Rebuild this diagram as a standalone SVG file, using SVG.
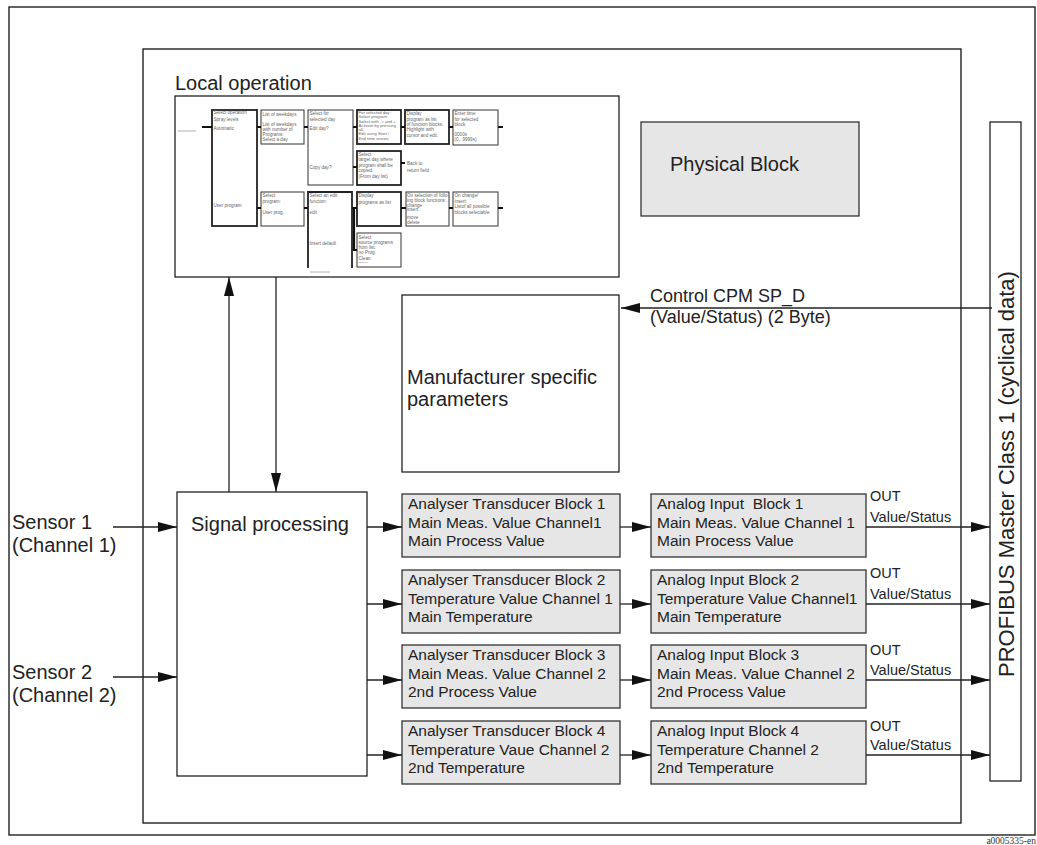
<svg xmlns="http://www.w3.org/2000/svg" width="1037" height="845" viewBox="0 0 1037 845">
<style>
  .frame{fill:none;stroke:#222;stroke-width:1.4}
  .box{fill:#fff;stroke:#222;stroke-width:1.3}
  .gbox{fill:#e6e6e6;stroke:#333;stroke-width:1.3}
  .t20{font-family:"Liberation Sans",Arial,sans-serif;font-size:20px;fill:#222}
  .t18{font-family:"Liberation Sans",Arial,sans-serif;font-size:18px;fill:#222}
  .t15{font-family:"Liberation Sans",Arial,sans-serif;font-size:15.5px;fill:#222;white-space:pre}
  .t14{font-family:"Liberation Sans",Arial,sans-serif;font-size:14.5px;fill:#222}
  .conn{fill:none;stroke:#222;stroke-width:1.3}
  .mthick{fill:#fff;stroke:#222;stroke-width:1.8}
  .mthin{fill:#fff;stroke:#333;stroke-width:1}
  .mc{fill:none;stroke:#111;stroke-width:2.2}
  .mfaint{fill:none;stroke:#999;stroke-width:0.8}
  .mt{font-family:"Liberation Sans",Arial,sans-serif;font-size:4.6px;fill:#666}
  .ms{font-family:"Liberation Sans",Arial,sans-serif;font-size:4.2px;fill:#666}
</style>
<defs>
  <marker id="ah" markerUnits="userSpaceOnUse" markerWidth="20" markerHeight="12" refX="19" refY="5" orient="auto">
    <path d="M0,0 L19,5 L0,10 z" fill="#111"/>
  </marker>
</defs>
<rect width="1037" height="845" fill="#fff"/>
<g id="outer-frame"><rect class="frame" x="9" y="7" width="1026" height="828"/></g>
<g id="device-frame"><rect class="frame" x="143" y="49" width="818" height="774"/></g>

<g id="local-operation">
  <text class="t20" x="175" y="90">Local operation</text>
  <rect class="box" x="175" y="96" width="444" height="181"/>
  <line class="mfaint" x1="178" y1="131" x2="196" y2="131"/>
  <line class="mfaint" x1="310" y1="272" x2="330" y2="272"/>
  <rect class="mthick" x="212" y="110" width="45" height="116"/>
  <rect class="mthin" x="261" y="110" width="43" height="34"/>
  <rect class="mthin" x="308" y="110" width="45" height="75"/>
  <rect class="mthick" x="357" y="110" width="44" height="34"/>
  <rect class="mthick" x="405" y="110" width="44" height="34"/>
  <rect class="mthin" x="453" y="110" width="45" height="35"/>
  <rect class="mthick" x="357" y="151" width="44" height="34"/>
  <rect class="mthin" x="261" y="192" width="43" height="34"/>
  <path class="mthick" d="M308,268 V192 H352 V268"/>
  <rect class="mthick" x="357" y="192" width="44" height="34"/>
  <rect class="mthin" x="357" y="233" width="44" height="34"/>
  <rect class="mthin" x="406" y="192" width="43" height="34"/>
  <rect class="mthin" x="453" y="192" width="45" height="34"/>
  <path class="mc" d="M202,127 H212 M257,127 H261 M304,127 H308 M353,127 H357 M401,127 H405 M449,127 H453 M498,127 H503 M353,167 H357 M401,163 H405 M257,208 H261 M304,208 H308 M352,208 H357 M354,208 V250 H357 M401,208 H406 M449,208 H453 M498,208 H503"/>
  <text class="mt" x="213.5" y="113.5">Select operation</text>
  <text class="mt" x="213.5" y="120.5">Spray levels</text>
  <text class="mt" x="213.5" y="129.5">Automatic</text>
  <text class="mt" x="213.5" y="206.5">User program</text>
  <text class="mt" x="262.5" y="115.5">List of weekdays</text>
  <text class="mt" x="262.5" y="125.5">List of weekdays</text>
  <text class="mt" x="262.5" y="130.5">with number of</text>
  <text class="mt" x="262.5" y="135.5">Programs:</text>
  <text class="mt" x="262.5" y="140.5">Select a day</text>
  <text class="mt" x="309.5" y="114.5">Select for</text>
  <text class="mt" x="309.5" y="120.5">selected day</text>
  <text class="mt" x="309.5" y="129.5">Edit day?</text>
  <text class="mt" x="309.5" y="168.5">Copy day?</text>
  <text class="ms" x="358.5" y="113.5">For selected day:</text>
  <text class="ms" x="358.5" y="118">Select program:</text>
  <text class="ms" x="358.5" y="122.5">Select with -&gt; and +.</text>
  <text class="ms" x="358.5" y="127">Activate by pressing</text>
  <text class="ms" x="358.5" y="130.5">all.</text>
  <text class="ms" x="358.5" y="135">Edit using Start /</text>
  <text class="ms" x="358.5" y="139.5">End time arrows</text>
  <text class="mt" x="406.5" y="114.5">Display</text>
  <text class="mt" x="406.5" y="120.5">program as list</text>
  <text class="mt" x="406.5" y="125.5">of function blocks.</text>
  <text class="mt" x="406.5" y="130.5">Highlight with</text>
  <text class="mt" x="406.5" y="136.5">cursor and edit:</text>
  <text class="mt" x="454.5" y="114.5">Enter time</text>
  <text class="mt" x="454.5" y="120.5">for selected</text>
  <text class="mt" x="454.5" y="125.5">block</text>
  <text class="mt" x="454.5" y="135.5">0000s</text>
  <text class="mt" x="454.5" y="140.5">(0...9999s)</text>
  <text class="mt" x="358.5" y="155.5">Select</text>
  <text class="mt" x="358.5" y="160.5">target day where</text>
  <text class="mt" x="358.5" y="166.5">program shall be</text>
  <text class="mt" x="358.5" y="171.5">copied.</text>
  <text class="mt" x="358.5" y="177.5">(From day list)</text>
  <text class="mt" x="407" y="164.5">Back to</text>
  <text class="mt" x="407" y="171.5">return field</text>
  <text class="mt" x="262.5" y="196.5">Select</text>
  <text class="mt" x="262.5" y="202.5">program:</text>
  <text class="mt" x="262.5" y="213.5">User prog.</text>
  <text class="mt" x="309.5" y="196.5">Select an edit</text>
  <text class="mt" x="309.5" y="202.5">function:</text>
  <text class="mt" x="309.5" y="213.5">edit</text>
  <text class="mt" x="309.5" y="244.5">Insert default</text>
  <text class="mt" x="358.5" y="196.5">Display</text>
  <text class="mt" x="358.5" y="203.5">programs as list</text>
  <text class="mt" x="358.5" y="238.5">Select</text>
  <text class="mt" x="358.5" y="243.5">source programs</text>
  <text class="mt" x="358.5" y="248.5">from list:</text>
  <text class="mt" x="358.5" y="253.5">no Prog.</text>
  <text class="mt" x="358.5" y="259.5">Clean</text>
  <text class="mt" x="358.5" y="264">------</text>
  <text class="mt" x="407" y="196.5">On selection of follo-</text>
  <text class="mt" x="407" y="202">ing block functions:</text>
  <text class="mt" x="407" y="206.5">change</text>
  <text class="mt" x="407" y="210.5">insert</text>
  <text class="mt" x="407" y="218.5">move</text>
  <text class="mt" x="407" y="223.5">delete</text>
  <text class="mt" x="454.5" y="196.5">On change/</text>
  <text class="mt" x="454.5" y="202.5">insert:</text>
  <text class="mt" x="454.5" y="207.5">Listof all possible</text>
  <text class="mt" x="454.5" y="213.5">blocks selectable</text>
</g>

<g id="physical-block">
  <rect class="gbox" x="641" y="122" width="218" height="94"/>
  <text class="t20" x="670" y="171">Physical Block</text>
</g>

<g id="manufacturer-params">
  <rect class="box" x="402" y="295" width="217" height="177"/>
  <text class="t20" x="407" y="384">Manufacturer specific</text>
  <text class="t20" x="407" y="406">parameters</text>
</g>

<g id="signal-processing">
  <rect class="box" x="177" y="492" width="190" height="284"/>
  <text class="t20" x="191" y="531">Signal processing</text>
</g>

<g id="sensor-1">
  <text class="t20" x="12" y="529">Sensor 1</text>
  <text class="t20" x="12" y="552">(Channel 1)</text>
</g>
<g id="sensor-2">
  <text class="t20" x="12" y="679">Sensor 2</text>
  <text class="t20" x="12" y="702">(Channel 2)</text>
</g>

<g id="atb-1">
  <rect class="gbox" x="402" y="494" width="218" height="63"/>
  <text class="t15" x="408" y="509">Analyser Transducer Block 1</text>
  <text class="t15" x="408" y="527.5">Main Meas. Value Channel1</text>
  <text class="t15" x="408" y="546">Main Process Value</text>
</g>
<g id="atb-2">
  <rect class="gbox" x="402" y="570" width="218" height="63"/>
  <text class="t15" x="408" y="585">Analyser Transducer Block 2</text>
  <text class="t15" x="408" y="603.5">Temperature Value Channel 1</text>
  <text class="t15" x="408" y="622">Main Temperature</text>
</g>
<g id="atb-3">
  <rect class="gbox" x="402" y="645" width="218" height="63"/>
  <text class="t15" x="408" y="660">Analyser Transducer Block 3</text>
  <text class="t15" x="408" y="678.5">Main Meas. Value Channel 2</text>
  <text class="t15" x="408" y="697">2nd Process Value</text>
</g>
<g id="atb-4">
  <rect class="gbox" x="402" y="721" width="218" height="63"/>
  <text class="t15" x="408" y="736">Analyser Transducer Block 4</text>
  <text class="t15" x="408" y="754.5">Temperature Vaue Channel 2</text>
  <text class="t15" x="408" y="773">2nd Temperature</text>
</g>

<g id="ai-1">
  <rect class="gbox" x="651" y="494" width="215" height="63"/>
  <text class="t15" x="657" y="509">Analog Input  Block 1</text>
  <text class="t15" x="657" y="527.5">Main Meas. Value Channel 1</text>
  <text class="t15" x="657" y="546">Main Process Value</text>
</g>
<g id="ai-2">
  <rect class="gbox" x="651" y="570" width="215" height="63"/>
  <text class="t15" x="657" y="585">Analog Input Block 2</text>
  <text class="t15" x="657" y="603.5">Temperature Value Channel1</text>
  <text class="t15" x="657" y="622">Main Temperature</text>
</g>
<g id="ai-3">
  <rect class="gbox" x="651" y="645" width="215" height="63"/>
  <text class="t15" x="657" y="660">Analog Input Block 3</text>
  <text class="t15" x="657" y="678.5">Main Meas. Value Channel 2</text>
  <text class="t15" x="657" y="697">2nd Process Value</text>
</g>
<g id="ai-4">
  <rect class="gbox" x="651" y="721" width="215" height="63"/>
  <text class="t15" x="657" y="736">Analog Input Block 4</text>
  <text class="t15" x="657" y="754.5">Temperature Channel 2</text>
  <text class="t15" x="657" y="773">2nd Temperature</text>
</g>

<g id="profibus">
  <rect class="box" x="990" y="122" width="31" height="659"/>
  <text class="t20" style="font-size:22px" text-anchor="middle" transform="translate(1014,474) rotate(-90)">PROFIBUS Master Class 1 (cyclical data)</text>
</g>

<g id="connectors">
  <line class="conn" x1="229" y1="492" x2="229" y2="277" marker-end="url(#ah)"/>
  <line class="conn" x1="276" y1="277" x2="276" y2="492" marker-end="url(#ah)"/>
  <line class="conn" x1="113" y1="527" x2="177" y2="527" marker-end="url(#ah)"/>
  <line class="conn" x1="113" y1="677" x2="177" y2="677" marker-end="url(#ah)"/>
  <line class="conn" x1="367" y1="527" x2="402" y2="527" marker-end="url(#ah)"/>
  <line class="conn" x1="367" y1="604" x2="402" y2="604" marker-end="url(#ah)"/>
  <line class="conn" x1="367" y1="680" x2="402" y2="680" marker-end="url(#ah)"/>
  <line class="conn" x1="367" y1="755" x2="402" y2="755" marker-end="url(#ah)"/>
  <line class="conn" x1="620" y1="527" x2="651" y2="527" marker-end="url(#ah)"/>
  <line class="conn" x1="620" y1="604" x2="651" y2="604" marker-end="url(#ah)"/>
  <line class="conn" x1="620" y1="680" x2="651" y2="680" marker-end="url(#ah)"/>
  <line class="conn" x1="620" y1="755" x2="651" y2="755" marker-end="url(#ah)"/>
  <line class="conn" x1="866" y1="527" x2="990" y2="527" marker-end="url(#ah)"/>
  <line class="conn" x1="866" y1="604" x2="990" y2="604" marker-end="url(#ah)"/>
  <line class="conn" x1="866" y1="680" x2="990" y2="680" marker-end="url(#ah)"/>
  <line class="conn" x1="866" y1="755" x2="990" y2="755" marker-end="url(#ah)"/>
  <line class="conn" x1="992" y1="308" x2="621" y2="308" marker-end="url(#ah)"/>
  <text class="t18" x="650" y="302">Control CPM SP_D</text>
  <text class="t18" x="650" y="323">(Value/Status) (2 Byte)</text>
  <text class="t14" x="870" y="501">OUT</text>
  <text class="t14" x="870" y="522">Value/Status</text>
  <text class="t14" x="870" y="578">OUT</text>
  <text class="t14" x="870" y="599">Value/Status</text>
  <text class="t14" x="870" y="655">OUT</text>
  <text class="t14" x="870" y="675">Value/Status</text>
  <text class="t14" x="870" y="731">OUT</text>
  <text class="t14" x="870" y="750">Value/Status</text>
</g>
<text x="1036" y="844" text-anchor="end" style="font-family:'Liberation Serif','Times New Roman',serif;font-size:9.5px;fill:#333">a0005335-en</text>
</svg>
